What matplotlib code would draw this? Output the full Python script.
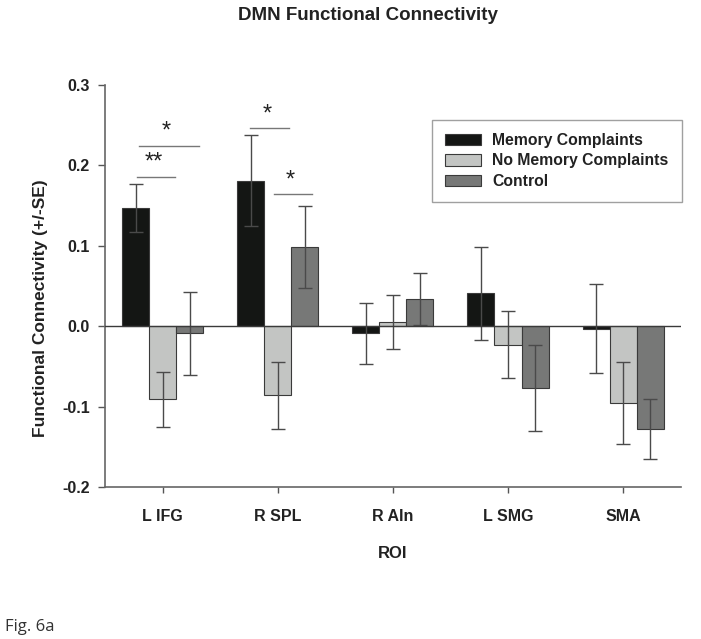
import matplotlib
matplotlib.use('Agg')

import numpy as np
import matplotlib.pyplot as plt

plt.rcParams['font.family'] = ['Liberation Sans', 'DejaVu Sans']

rois = ['L IFG', 'R SPL', 'R AIn', 'L SMG', 'SMA']
groups = ['Memory Complaints', 'No Memory Complaints', 'Control']

mc = [0.147, 0.181, -0.009, 0.041, -0.003]
mc_se = [0.030, 0.057, 0.038, 0.058, 0.055]
nmc = [-0.091, -0.086, 0.005, -0.023, -0.096]
nmc_se = [0.034, 0.042, 0.034, 0.042, 0.051]
ctrl = [-0.009, 0.098, 0.034, -0.077, -0.128]
ctrl_se = [0.052, 0.051, 0.032, 0.054, 0.037]

colors = ['#141614', '#c3c5c3', '#777877']

ind = np.arange(len(rois))
width = 0.235

fig = plt.figure(figsize=(7.01, 6.39), dpi=100)
ax = fig.add_axes([0.150, 0.238, 0.821, 0.629])

bars = []
for k, (vals, se) in enumerate([(mc, mc_se), (nmc, nmc_se), (ctrl, ctrl_se)]):
    b = ax.bar(ind + (k - 1) * width, vals, width, color=colors[k],
               edgecolor='#3a3a3a', linewidth=0.8, zorder=2)
    ax.errorbar(ind + (k - 1) * width, vals, yerr=se, fmt='none',
                ecolor='#4a4a4a', elinewidth=1.0, capsize=4.7, capthick=1.0, zorder=3)
    bars.append(b)

ax.axhline(0, color='#3a3a3a', linewidth=1.0, zorder=4)

# significance markers
sig = [(-0.226, 0.104, 0.186, '**'), (-0.21, 0.313, 0.224, '*'),
       (1 - 0.243, 1 + 0.096, 0.246, '*'), (1 - 0.035, 1 + 0.296, 0.164, '*')]
for x0, x1, y, s in sig:
    ax.plot([x0, x1], [y, y], color='#777777', linewidth=1.0)
    ax.text((x0 + x1) / 2 - 0.02, y + 0.004, s, ha='center', va='bottom',
            fontsize=17, color='#222222')

ax.set_xlim(-0.5, 4.5)
ax.set_ylim(-0.2, 0.3)
ax.set_yticks([-0.2, -0.1, 0.0, 0.1, 0.2, 0.3])
ax.set_yticklabels(['-0.2', '-0.1', '0.0', '0.1', '0.2', '0.3'])
ax.set_xticks(ind)
ax.set_xticklabels(rois)
for lab in ax.get_xticklabels() + ax.get_yticklabels():
    lab.set_fontweight('bold')
    lab.set_fontsize(11.5)
    lab.set_color('#222222')
ax.tick_params(axis='x', length=4, width=1, color='#555555', pad=12)
ax.tick_params(axis='y', length=5, width=1, color='#555555', pad=6)

for sp in ['top', 'right']:
    ax.spines[sp].set_visible(False)
for sp in ['left', 'bottom']:
    ax.spines[sp].set_color('#666666')
    ax.spines[sp].set_linewidth(1.2)

ax.set_ylabel('Functional Connectivity (+/-SE)', fontsize=12.5, fontweight='bold',
              color='#222222')
ax.yaxis.set_label_coords(-0.10, 0.445)
ax.set_xlabel('ROI', fontsize=12, fontweight='bold', color='#222222', labelpad=16)

fig.text(0.525, 0.976, 'DMN Functional Connectivity', ha='center', va='center',
         fontsize=13.5, fontweight='bold', color='#222222')

leg = ax.legend([b[0] for b in bars], groups, loc='upper right',
                bbox_to_anchor=(1.0156, 0.933), fancybox=False,
                prop={'weight': 'bold', 'size': 11.3}, edgecolor='#888888',
                handlelength=2.3, handleheight=0.76, borderpad=0.85,
                labelspacing=0.34, handletextpad=0.7)
leg.get_frame().set_linewidth(1.0)
for t in leg.get_texts():
    t.set_color('#222222')

fig.text(0.007, 0.012, 'Fig. 6a', fontsize=12, family=['Open Sans', 'DejaVu Sans'],
         color='#333333')

plt.savefig('out.png', dpi=100)
